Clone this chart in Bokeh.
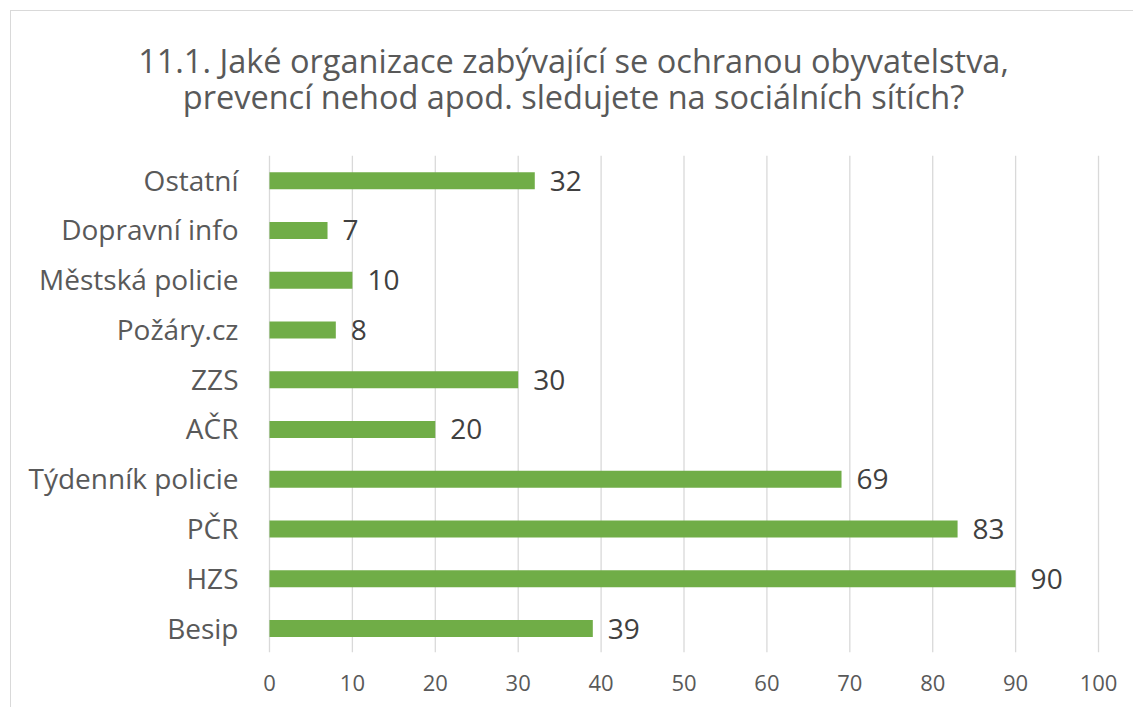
from bokeh.plotting import figure
from bokeh.models import ColumnDataSource, Label, Range1d, FixedTicker
from bokeh.core.properties import value
from bokeh.embed import file_html
from bokeh.resources import INLINE

categories = ["Besip", "HZS", "PČR", "Týdenník policie", "AČR", "ZZS",
              "Požáry.cz", "Městská policie", "Dopravní info", "Ostatní"]
counts = [39, 90, 83, 69, 20, 30, 8, 10, 7, 32]
x_ticks = [0, 10, 20, 30, 40, 50, 60, 70, 80, 90, 100]
title_lines = ["11.1. Jaké organizace zabývající se ochranou obyvatelstva,",
               "prevencí nehod apod. sledujete na sociálních sítích?"]

FONT = "Open Sans"
pos = list(range(len(categories)))
zeros = [0] * len(categories)
src = ColumnDataSource(dict(pos=pos, val=counts, zero=zeros, cat=categories,
                            lab=[str(v) for v in counts]))

p = figure(width=1123, height=697, output_backend="svg", toolbar_location=None,
           y_range=Range1d(-0.482, 12.40), x_range=Range1d(-31.12, 104.34),
           min_border_left=0, min_border_right=0, min_border_top=0, min_border_bottom=56,
           margin=(10, 0, 0, 10))
p.styles = {"border-left": "1px solid #d9d9d9", "border-top": "1px solid #d9d9d9"}
p.outline_line_color = None
p.background_fill_color = "white"
p.border_fill_color = "white"
p.xgrid.grid_line_color = None
p.ygrid.grid_line_color = None
p.yaxis.visible = False

# vertical gridlines spanning the category band only
n = len(x_ticks)
p.segment(x0=x_ticks, x1=x_ticks, y0=[-0.482] * n, y1=[len(categories) - 0.5] * n,
          line_color="#d9d9d9", line_width=1.3)

p.hbar(y="pos", right="val", left=0, height=0.34, source=src,
       fill_color="#70AD47", line_color=None)

# value labels
p.text(x="val", y="pos", text="lab", source=src, x_offset=15,
       text_align="left", text_baseline="middle", text_font=value(FONT),
       text_font_size="28px", text_color="#404040")

# category labels
p.text(x="zero", y="pos", text="cat", source=src, x_offset=-31, y_offset=-1,
       text_align="right", text_baseline="middle", text_font=value(FONT),
       text_font_size="28px", text_color="#595959")

p.xaxis.ticker = FixedTicker(ticks=x_ticks)
p.xaxis.axis_line_color = None
p.xaxis.major_tick_line_color = None
p.xaxis.minor_tick_line_color = None
p.xaxis.major_tick_out = 0
p.xaxis.major_label_text_font = FONT
p.xaxis.major_label_text_font_size = "22px"
p.xaxis.major_label_text_color = "#595959"
p.xaxis.major_label_standoff = 22

for t, yy in zip(title_lines, [11.41, 10.69]):
    p.add_layout(Label(x=36.67, y=yy, text=t, text_align="center", text_baseline="alphabetic",
                       text_font=FONT, text_font_size="32.5px", text_color="#595959"))

open("out.html", "w").write(file_html(p, INLINE))
